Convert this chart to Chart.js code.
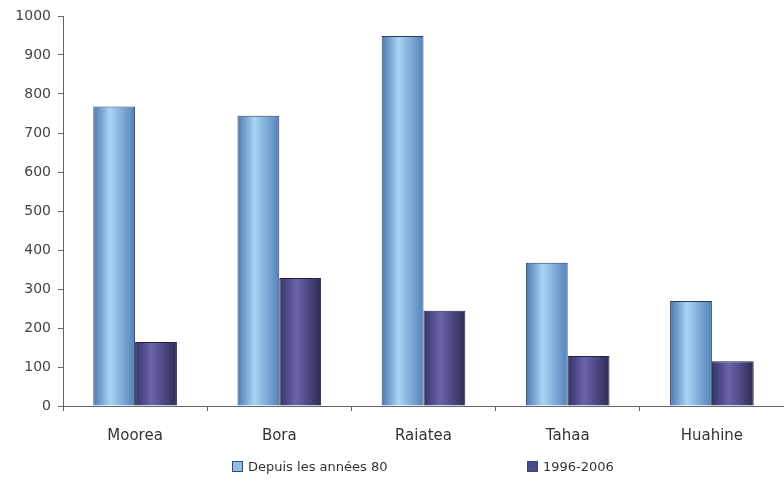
<!DOCTYPE html>
<html>
<head>
<meta charset="utf-8">
<script src="https://cdn.jsdelivr.net/npm/chart.js@4/dist/chart.umd.min.js"></script>
<style>
  html, body { margin: 0; padding: 0; background: #fff; }
  #wrap { position: relative; width: 784px; height: 479px; }
  #legend { position: absolute; top: 459px; left: 0; width: 784px; height: 18px;
            font-family: "DejaVu Sans", sans-serif; font-size: 13px; color: #333; }
  .item { position: absolute; top: 0; display: flex; align-items: center; }
  .box { width: 9px; height: 9px; margin-right: 5px; border: 1px solid #3a4a6a; }
</style>
</head>
<body>
<div id="wrap">
  <canvas id="islandChart" width="784" height="479"></canvas>
  <div id="legend"></div>
</div>
<script>
const islands = ['Moorea', 'Bora', 'Raiatea', 'Tahaa', 'Huahine'];
const depuis80 = [768, 744, 949, 367, 269];
const periode96 = [164, 328, 244, 128, 115];
const seriesNames = ['Depuis les années 80', '1996-2006'];
const yTicks = [0, 100, 200, 300, 400, 500, 600, 700, 800, 900, 1000];

const catPct = 0.58;

// couleurs des barres : bords, centre
const shades = [
    ['#4a78ad', '#a9d4f6', '#5283b8'],
    ['#34346a', '#6a64aa', '#2c2c58']
];

// dégradé horizontal calé sur la barre
const barFill = (c) => {
    const chart = c.chart;
    const xs = chart.scales && chart.scales.x;
    const s = shades[c.datasetIndex];
    if (!xs || !chart.chartArea || c.dataIndex === undefined) return s[1];
    const w = (xs.width / islands.length) * catPct / 2;
    const mid = xs.getPixelForValue(c.dataIndex) + (c.datasetIndex === 0 ? -w / 2 : w / 2);
    const g = chart.ctx.createLinearGradient(mid - w / 2, 0, mid + w / 2, 0);
    g.addColorStop(0, s[0]);
    g.addColorStop(0.4, s[1]);
    g.addColorStop(1, s[2]);
    return g;
};

const ctx = document.getElementById('islandChart').getContext('2d');
const islandChart = new Chart(ctx, {
    type: 'bar',
    data: {
        labels: islands,
        datasets: [
            { label: seriesNames[0], data: depuis80, backgroundColor: barFill,
              borderColor: '#2e3c5c', borderWidth: 1 },
            { label: seriesNames[1], data: periode96, backgroundColor: barFill,
              borderColor: '#22223f', borderWidth: 1 }
        ]
    },
    options: {
        responsive: false,
        animation: false,
        layout: { padding: { top: 16, right: 0, bottom: 33, left: 0 } },
        datasets: { bar: { categoryPercentage: catPct, barPercentage: 1 } },
        plugins: { legend: { display: false }, tooltip: { enabled: false } },
        scales: {
            x: {
                afterFit: (s) => { s.height = 40; },
                grid: { drawOnChartArea: false, tickLength: 5, color: '#666', offset: true },
                border: { color: '#666' },
                ticks: { padding: 16, color: '#333', font: { family: '"DejaVu Sans"', size: 15 } }
            },
            y: {
                min: 0, max: 1000,
                afterFit: (s) => { s.width = 63; },
                afterBuildTicks: (s) => { s.ticks = yTicks.map(v => ({ value: v })); },
                grid: { drawOnChartArea: false, tickLength: 5, color: '#666' },
                border: { color: '#666' },
                ticks: { padding: 7, color: '#444', callback: (v) => String(v),
                         font: { family: '"DejaVu Sans"', size: 14 } }
            }
        }
    }
});

// légende sous le graphique
const legend = document.getElementById('legend');
const legendX = [232, 527];
const boxColors = ['#8fbfe8', '#4a4a88'];
seriesNames.forEach((name, i) => {
    legend.innerHTML += `
        <div class="item" style="left:${legendX[i]}px">
            <span class="box" style="background:${boxColors[i]}"></span>${name}
        </div>`;
});
</script>
</body>
</html>
